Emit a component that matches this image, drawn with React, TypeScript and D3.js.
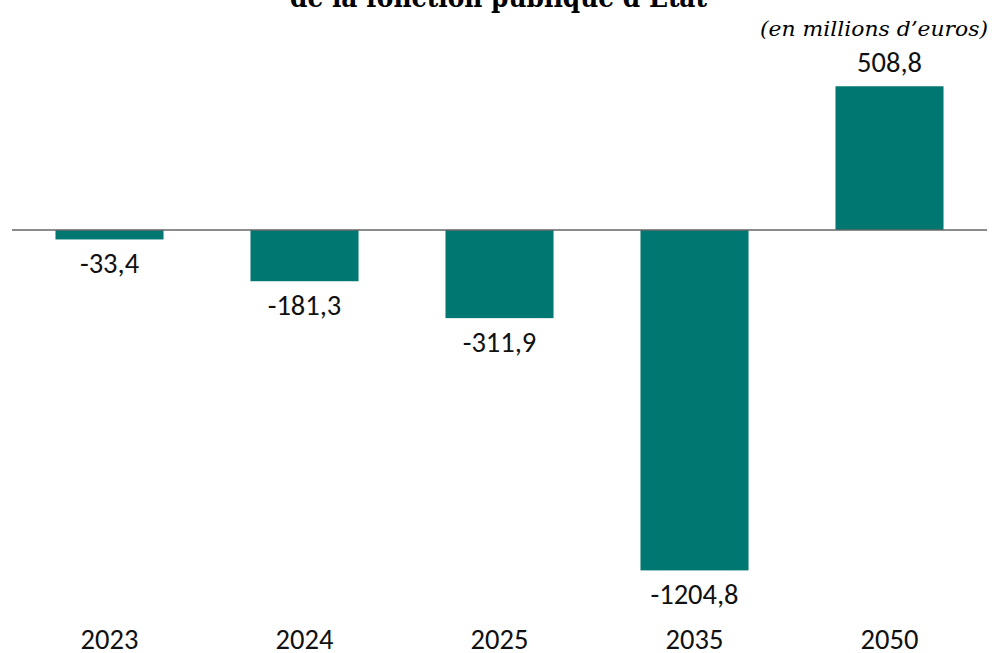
import React from "react";
import * as d3 from "d3";

const categories = ["2023", "2024", "2025", "2035", "2050"];
const values = [-33.4, -181.3, -311.9, -1204.8, 508.8];
const valueLabels = ["-33,4", "-181,3", "-311,9", "-1204,8", "508,8"];
const titleText = "de la fonction publique d\u2019\u00c9tat";
const unitText = "(en millions d\u2019euros)";

const W = 992;
const H = 653;

export default function App() {
  const x = d3.scaleBand<string>().domain(categories).range([12, 987]).paddingInner(0.446).paddingOuter(0.223);
  const y = d3.scaleLinear().domain([-1300, 600]).range([597.3, 60.5]);
  const y0 = y(0);
  const labelFont = "Carlito, Calibri, Lato, 'Open Sans', 'Liberation Sans', sans-serif";
  return (
    <svg width={W} height={H} style={{ position: "absolute", left: 0, top: 0, background: "#fff" }}>
      <text x={498.5} y={7} textAnchor="middle" fontFamily="'DejaVu Serif', serif" fontWeight="bold" fontSize={27}
        textLength={417} lengthAdjust="spacingAndGlyphs">
        {titleText}
      </text>
      <text x={988} y={36} textAnchor="end" fontFamily="'DejaVu Serif', serif" fontStyle="italic" fontSize={20.5}
        textLength={228} lengthAdjust="spacingAndGlyphs">
        {unitText}
      </text>
      {values.map((v, i) => {
        const bx = x(categories[i])!;
        const top = Math.min(y(v), y0);
        const h = Math.abs(y(v) - y0);
        const cx = bx + x.bandwidth() / 2;
        const ly = v < 0 ? y(v) + 34 : y(v) - 14;
        return (
          <g key={categories[i]}>
            <rect x={bx} y={top} width={x.bandwidth()} height={h} fill="#007770" />
            <text x={cx} y={ly} textAnchor="middle" fontFamily={labelFont} fontSize={28.5} fill="#111">
              {valueLabels[i]}
            </text>
            <text x={cx} y={648.5} textAnchor="middle" fontFamily={labelFont} fontSize={28.5} fill="#111">
              {categories[i]}
            </text>
          </g>
        );
      })}
      <line x1={12} x2={987} y1={y0} y2={y0} stroke="#666" strokeWidth={1.5} />
    </svg>
  );
}
